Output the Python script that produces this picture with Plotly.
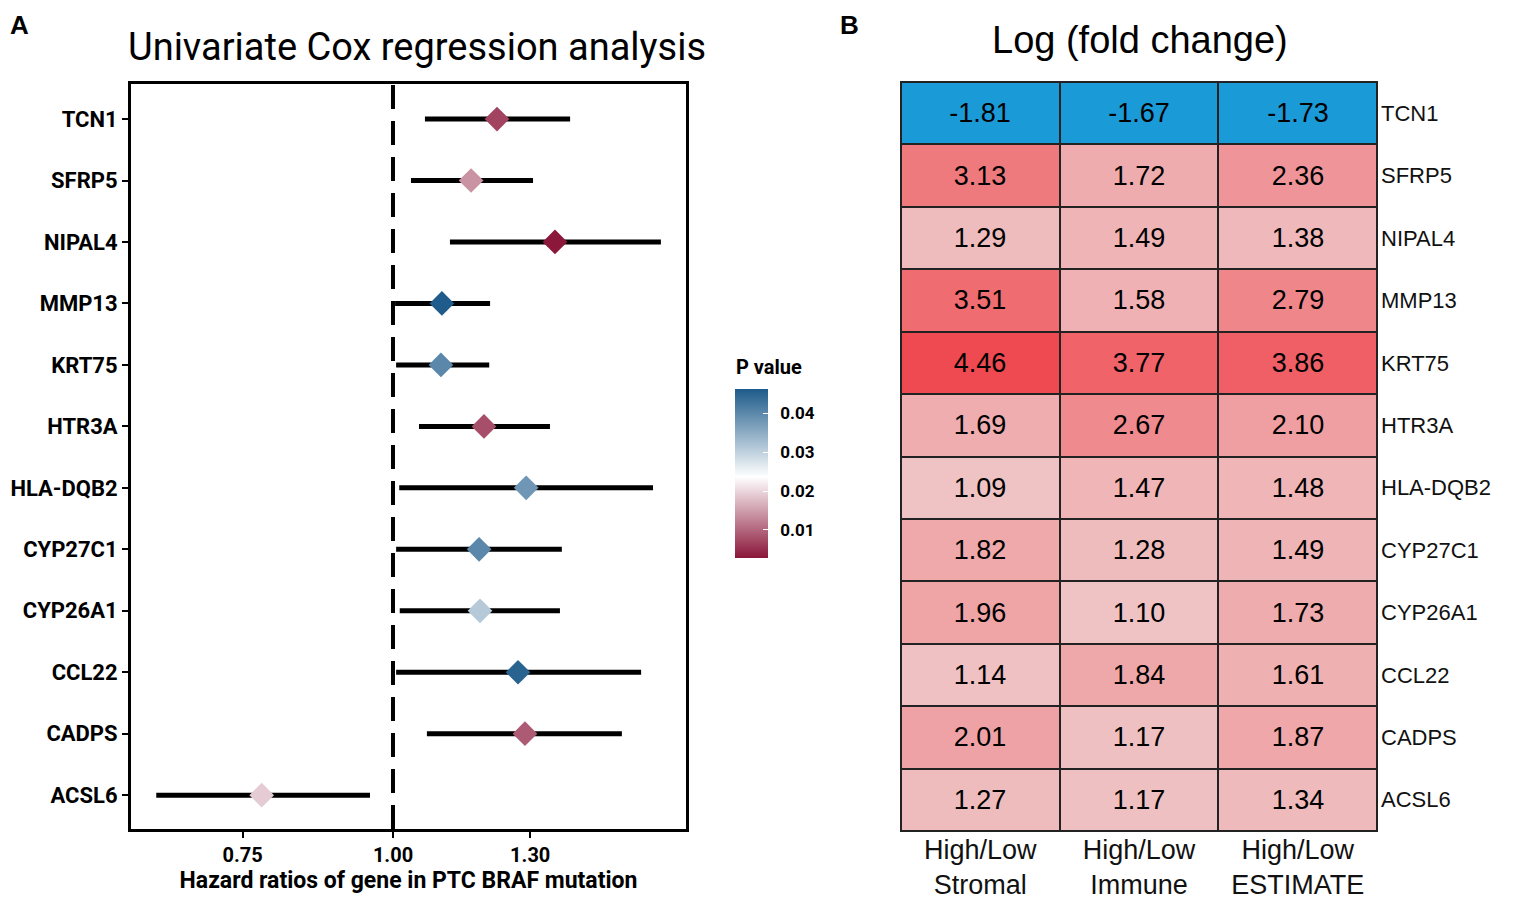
import plotly.graph_objs as go
import numpy as np

# forest plot data
genes = ['TCN1', 'SFRP5', 'NIPAL4', 'MMP13', 'KRT75', 'HTR3A',
         'HLA-DQB2', 'CYP27C1', 'CYP26A1', 'CCL22', 'CADPS', 'ACSL6']
hr = [1.22, 1.161, 1.363, 1.098, 1.096, 1.190, 1.290, 1.179, 1.181, 1.270, 1.287, 0.778]
hr_low = [1.063, 1.035, 1.115, 1.004, 1.006, 1.051, 1.012, 1.006, 1.013, 1.006, 1.067, 0.636]
hr_high = [1.403, 1.307, 1.669, 1.204, 1.202, 1.350, 1.644, 1.381, 1.376, 1.607, 1.549, 0.957]
pvals = [0.007, 0.014, 0.003, 0.046, 0.040, 0.008, 0.038, 0.040, 0.031, 0.045, 0.009, 0.019]

# heatmap data: log fold change
groups = ['High/Low<br>Stromal', 'High/Low<br>Immune', 'High/Low<br>ESTIMATE']
stromal = [-1.81, 3.13, 1.29, 3.51, 4.46, 1.69, 1.09, 1.82, 1.96, 1.14, 2.01, 1.27]
immune = [-1.67, 1.72, 1.49, 1.58, 3.77, 2.67, 1.47, 1.28, 1.10, 1.84, 1.17, 1.17]
estimate = [-1.73, 2.36, 1.38, 2.79, 3.86, 2.10, 1.48, 1.49, 1.73, 1.61, 1.87, 1.34]

ref_hr = 1.0
p_ticks = [0.01, 0.02, 0.03, 0.04]

# the page has an 8px body margin; positions below are given in page pixels
W, H, OFF = 1536, 899, 8
def fx(px):
    return (px - OFF) / W
def fy(py):
    return 1 - (py - OFF) / H

sans = "Roboto, Liberation Sans, sans-serif"
arial = "Liberation Sans, Arial, sans-serif"

hr = np.array(hr)
err_plus = np.array(hr_high) - hr
err_minus = hr - np.array(hr_low)

forest = go.Scatter(
    x=hr, y=genes, mode='markers', xaxis='x', yaxis='y',
    marker=dict(symbol='diamond', size=19, color=pvals,
                colorscale=[[0, '#8a1539'], [0.48, '#ffffff'], [1, '#1d5b8a']],
                cmin=0.0028, cmax=0.0462, line=dict(width=0),
                colorbar=dict(x=fx(735), xanchor='left', y=fy(473.5), yanchor='middle',
                              lenmode='pixels', len=169, thickness=33, outlinewidth=0,
                              tickvals=p_ticks,
                              ticktext=['\u00a0\u00a0%.2f' % v for v in p_ticks],
                              ticks='inside', tickcolor='white', ticklen=5,
                              ypad=0, xpad=0,
                              tickfont=dict(family=sans, size=17, color='black', weight='bold'))),
    error_x=dict(type='data', symmetric=False, array=err_plus, arrayminus=err_minus,
                 color='black', thickness=5, width=0),
    showlegend=False)

z = np.array([stromal, immune, estimate]).T
heat = go.Heatmap(
    z=z, x=groups, y=genes, xaxis='x2', yaxis='y2',
    zmin=-1.81, zmax=4.46,
    colorscale=[[0, '#1a9ad6'], [0.288, '#1fa0d8'], [0.289, '#f6e0e0'],
                [0.448, '#efc6c7'], [1, '#ef4a51']],
    showscale=False, xgap=2, ygap=2,
    texttemplate='%{z:.2f}', textfont=dict(family=arial, size=27, color='black'))

data = [forest, heat]

layout = go.Layout(
    width=W, height=H,
    margin=dict(l=0, r=0, t=0, b=0),
    paper_bgcolor='white', plot_bgcolor='white',
    xaxis=dict(domain=[fx(131), fx(686)], type='log',
               range=[np.log10(0.606), np.log10(1.751)],
               tickvals=[0.75, 1.0, 1.3], ticktext=['0.75', '1.00', '1.30'],
               ticks='outside', ticklen=6, tickwidth=2, tickcolor='black',
               ticklabelstandoff=0,
               showline=True, linecolor='black', linewidth=3, mirror=True,
               showgrid=False, zeroline=False,
               tickfont=dict(family=sans, size=20, color='black', weight='bold'),
               title=dict(text='Hazard ratios of gene in PTC BRAF mutation',
                          font=dict(family=sans, size=23, color='black', weight='bold'),
                          standoff=6)),
    yaxis=dict(domain=[fy(829), fy(84)], range=[11.55, -0.57],
               ticks='outside', ticklen=6, tickwidth=2, tickcolor='black',
               showline=True, linecolor='black', linewidth=3, mirror=True,
               showgrid=False, zeroline=False,
               tickfont=dict(family=sans, size=22, color='black', weight='bold')),
    xaxis2=dict(domain=[fx(901), fx(1377)], anchor='y2', side='bottom',
                ticks='', showgrid=False, zeroline=False, showline=False,
                ticklabelstandoff=0,
                tickfont=dict(family=arial, size=27, color='#111111')),
    yaxis2=dict(domain=[fy(831), fy(82)], anchor='x2', side='right',
                autorange='reversed',
                ticks='', showgrid=False, zeroline=False, showline=False,
                ticklabelstandoff=3,
                tickfont=dict(family=arial, size=22, color='#111111')),
    shapes=[
        dict(type='line', xref='x', yref='y domain', x0=ref_hr, x1=ref_hr, y0=0, y1=1,
             line=dict(color='black', width=4, dash='24px,12px')),
        dict(type='rect', xref='x2 domain', yref='y2 domain', x0=0, x1=1, y0=0, y1=1,
             fillcolor='#222222', line=dict(color='#222222', width=2), layer='below'),
    ],
    annotations=[
        dict(text='Univariate Cox regression analysis', xref='paper', yref='paper',
             x=fx(417), y=fy(47), xanchor='center', yanchor='middle', showarrow=False,
             font=dict(family=sans, size=38, color='black')),
        dict(text='Log (fold change)', xref='paper', yref='paper',
             x=fx(1140), y=fy(40), xanchor='center', yanchor='middle', showarrow=False,
             font=dict(family=arial, size=38, color='black')),
        dict(text='P value', xref='paper', yref='paper',
             x=fx(734), y=fy(367), xanchor='left', yanchor='middle', showarrow=False,
             font=dict(family=sans, size=20, color='black', weight='bold')),
        dict(text='A', xref='paper', yref='paper', x=0, y=1,
             xanchor='left', yanchor='top', showarrow=False,
             font=dict(family=arial, size=26, color='black', weight='bold')),
        dict(text='B', xref='paper', yref='paper', x=fx(838), y=1,
             xanchor='left', yanchor='top', showarrow=False,
             font=dict(family=arial, size=26, color='black', weight='bold')),
    ])

fig = go.Figure(data=data, layout=layout)
fig.write_html("out.html")
